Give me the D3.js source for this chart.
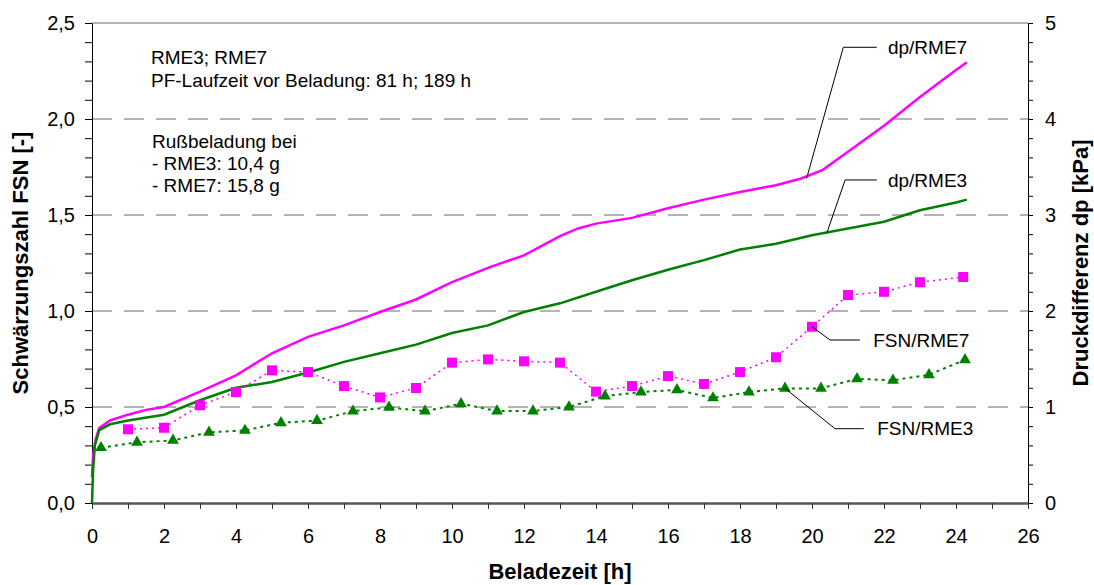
<!DOCTYPE html>
<html>
<head>
<meta charset="utf-8">
<script src="https://cdn.jsdelivr.net/npm/d3@7"></script>
<style>
body{margin:0;background:#fff;}
text{font-family:"Liberation Sans",Arial,sans-serif;fill:#000;}
</style>
</head>
<body>
<div id="chart"></div>
<script>
// Druckdifferenz dp [kPa] (rechte Achse)
const dpTime7 = [0, 0.03, 0.1, 0.2, 0.5, 1, 1.5, 2, 3, 4, 5, 6, 7, 8, 9, 10, 11, 12, 13, 13.5, 14, 15, 16, 17, 18, 19, 19.7, 20.3, 21, 22, 23, 24, 24.3];
const dpRME7  = [0.27, 0.5, 0.66, 0.78, 0.86, 0.92, 0.97, 1.0, 1.16, 1.33, 1.56, 1.73, 1.85, 1.99, 2.12, 2.30, 2.45, 2.58, 2.78, 2.86, 2.91, 2.97, 3.07, 3.16, 3.24, 3.31, 3.38, 3.47, 3.66, 3.93, 4.23, 4.51, 4.59];

const dpTime3 = [0, 0.03, 0.08, 0.2, 0.5, 1, 2, 3, 4, 5, 6, 7, 8, 9, 10, 11, 12, 13, 14, 15, 16, 17, 18, 19, 20, 21, 22, 23, 24, 24.3];
const dpRME3  = [0, 0.34, 0.6, 0.76, 0.82, 0.86, 0.92, 1.07, 1.2, 1.26, 1.36, 1.47, 1.56, 1.65, 1.77, 1.85, 1.99, 2.08, 2.2, 2.32, 2.43, 2.53, 2.64, 2.7, 2.79, 2.86, 2.93, 3.05, 3.13, 3.16];

// Schwärzungszahl FSN [-] (linke Achse)
const fsnTime7 = [1, 2, 3, 4, 5, 6, 7, 8, 9, 10, 11, 12, 13, 14, 15, 16, 17, 18, 19, 20, 21, 22, 23, 24.2];
const fsnRME7  = [0.384, 0.392, 0.509, 0.578, 0.691, 0.682, 0.609, 0.55, 0.599, 0.731, 0.748, 0.738, 0.731, 0.58, 0.609, 0.661, 0.62, 0.682, 0.759, 0.918, 1.083, 1.10, 1.15, 1.177];

const fsnTime3 = [0.25, 1.25, 2.25, 3.25, 4.25, 5.25, 6.25, 7.25, 8.25, 9.25, 10.25, 11.25, 12.25, 13.25, 14.25, 15.25, 16.25, 17.25, 18.25, 19.25, 20.25, 21.25, 22.25, 23.25, 24.25];
const fsnRME3  = [0.288, 0.316, 0.326, 0.368, 0.378, 0.418, 0.429, 0.478, 0.498, 0.478, 0.517, 0.479, 0.479, 0.5, 0.557, 0.578, 0.589, 0.547, 0.578, 0.597, 0.597, 0.647, 0.639, 0.668, 0.746];

const xTicks = d3.range(0, 27);
const yLeftTicks = d3.range(0, 26).map(i => i / 10);
const yRightTicks = d3.range(0, 26).map(i => i / 5);

const infoLines1 = ["RME3; RME7", "PF-Laufzeit vor Beladung: 81 h; 189 h"];
const infoLines2 = ["Rußbeladung bei", "- RME3: 10,4 g", "- RME7: 15,8 g"];

const width = 1094, height = 585;
const margin = {top: 23, right: 66, bottom: 82, left: 92};

const svg = d3.select("#chart")
    .append("svg")
    .attr("width", width)
    .attr("height", height);

svg.append("rect").attr("width", width).attr("height", height).attr("fill", "#fff");

const x = d3.scaleLinear().domain([0, 26]).range([margin.left, width - margin.right]);
const yL = d3.scaleLinear().domain([0, 2.5]).range([height - margin.bottom, margin.top]);
const yR = d3.scaleLinear().domain([0, 5]).range([height - margin.bottom, margin.top]);

const comma = d => d3.format(".1f")(d).replace(".", ",");

// grid lines
svg.append("g")
    .selectAll("line")
    .data([0.5, 1, 1.5, 2])
    .enter()
    .append("line")
    .attr("x1", x(0)).attr("x2", x(26))
    .attr("y1", d => yL(d)).attr("y2", d => yL(d))
    .attr("stroke", "#b4b4b4")
    .attr("stroke-width", 2)
    .attr("stroke-dasharray", "20,12");

svg.append("line")
    .attr("x1", x(0)).attr("x2", x(26))
    .attr("y1", yL(2.5)).attr("y2", yL(2.5))
    .attr("stroke", "#999")
    .attr("stroke-width", 1.5);

// axes
const styleAxis = (g, size) => {
    g.attr("font-size", size).attr("font-family", '"Liberation Sans",Arial,sans-serif');
    g.selectAll("text").attr("fill", "#000");
};

svg.append("g")
    .attr("transform", "translate(" + x(0) + ",0)")
    .call(d3.axisLeft(yL).tickValues(yLeftTicks).tickSize(7).tickSizeOuter(0).tickPadding(10)
        .tickFormat(d => Math.round(d * 10) % 5 === 0 ? comma(d) : ""))
    .call(g => styleAxis(g, 20));

svg.append("g")
    .attr("transform", "translate(" + x(26) + ",0)")
    .call(d3.axisRight(yR).tickValues(yRightTicks).tickSize(5).tickSizeOuter(0).tickPadding(12)
        .tickFormat(d => Math.abs(d - Math.round(d)) < 1e-6 ? d3.format("d")(d) : ""))
    .call(g => styleAxis(g, 20));

svg.append("g")
    .attr("transform", "translate(0," + yL(0) + ")")
    .call(d3.axisBottom(x).tickValues(xTicks).tickSize(6).tickSizeOuter(0).tickPadding(20)
        .tickFormat(d => d % 2 === 0 ? d : ""))
    .call(g => styleAxis(g, 20))
    .call(g => g.select(".domain").attr("stroke", "#555").attr("stroke-width", 2.5))
    .call(g => g.selectAll(".tick line").attr("stroke", "#333"));

// axis titles
svg.append("text")
    .attr("x", (x(0) + x(26)) / 2).attr("y", 579)
    .attr("text-anchor", "middle")
    .attr("font-size", 22).attr("font-weight", "bold")
    .text("Beladezeit [h]");

svg.append("text")
    .attr("transform", "translate(28," + yL(1.25) + ") rotate(-90)")
    .attr("text-anchor", "middle")
    .attr("font-size", 22).attr("font-weight", "bold")
    .text("Schwärzungszahl FSN [-]");

svg.append("text")
    .attr("transform", "translate(1088," + yL(1.25) + ") rotate(-90)")
    .attr("text-anchor", "middle")
    .attr("font-size", 22).attr("font-weight", "bold")
    .text("Druckdifferenz dp [kPa]");

// dp curves
const dpLine = d3.line().x(d => x(d[0])).y(d => yR(d[1]));
svg.append("path")
    .attr("d", dpLine(d3.zip(dpTime7, dpRME7)))
    .attr("fill", "none").attr("stroke", "#ff00ff").attr("stroke-width", 2.5);
svg.append("path")
    .attr("d", dpLine(d3.zip(dpTime3, dpRME3)))
    .attr("fill", "none").attr("stroke", "#008000").attr("stroke-width", 2.5);

// FSN series
const fsnLine = d3.line().x(d => x(d[0])).y(d => yL(d[1]));
svg.append("path")
    .attr("d", fsnLine(d3.zip(fsnTime7, fsnRME7)))
    .attr("fill", "none").attr("stroke", "#ff00ff").attr("stroke-width", 1.5)
    .attr("stroke-dasharray", "2,4");
svg.append("path")
    .attr("d", fsnLine(d3.zip(fsnTime3, fsnRME3)))
    .attr("fill", "none").attr("stroke", "#008000").attr("stroke-width", 2)
    .attr("stroke-dasharray", "3,4");

svg.append("g")
    .selectAll("path")
    .data(d3.zip(fsnTime7, fsnRME7))
    .enter()
    .append("path")
    .attr("transform", d => "translate(" + x(d[0]) + "," + yL(d[1]) + ")")
    .attr("d", d3.symbol().type(d3.symbolSquare).size(100))
    .attr("fill", "#ff00ff");

svg.append("g")
    .selectAll("path")
    .data(d3.zip(fsnTime3, fsnRME3))
    .enter()
    .append("path")
    .attr("transform", d => "translate(" + x(d[0]) + "," + yL(d[1]) + ")")
    .attr("d", d3.symbol().type(d3.symbolTriangle).size(60))
    .attr("fill", "#008000");

// series labels with leader lines [t, value] in the scale of their axis
const labels = [
    {text: "dp/RME7", scale: yR, pts: [[19.85, 3.38], [20.87, 4.747], [21.8, 4.747]], lx: 22.11},
    {text: "dp/RME3", scale: yR, pts: [[20.41, 2.81], [20.92, 3.365], [21.8, 3.365]], lx: 22.11},
    {text: "FSN/RME7", scale: yL, pts: [[20, 0.918], [20.5, 0.849], [21.33, 0.849]], lx: 21.7},
    {text: "FSN/RME3", scale: yL, pts: [[19.25, 0.597], [20.64, 0.387], [21.44, 0.387]], lx: 21.81}
];
labels.forEach(l => {
    svg.append("path")
        .attr("d", d3.line().x(p => x(p[0])).y(p => l.scale(p[1]))(l.pts))
        .attr("fill", "none").attr("stroke", "#000").attr("stroke-width", 1);
    svg.append("text")
        .attr("x", x(l.lx)).attr("y", l.scale(l.pts[2][1]))
        .attr("dy", "0.35em")
        .attr("font-size", 19)
        .text(l.text);
});

// info text
infoLines1.forEach((t, i) => {
    svg.append("text").attr("x", 151).attr("y", 64 + i * 22.5).attr("font-size", 19).text(t);
});
infoLines2.forEach((t, i) => {
    svg.append("text").attr("x", 152).attr("y", 147.5 + i * 22).attr("font-size", 19).text(t);
});
</script>
</body>
</html>
